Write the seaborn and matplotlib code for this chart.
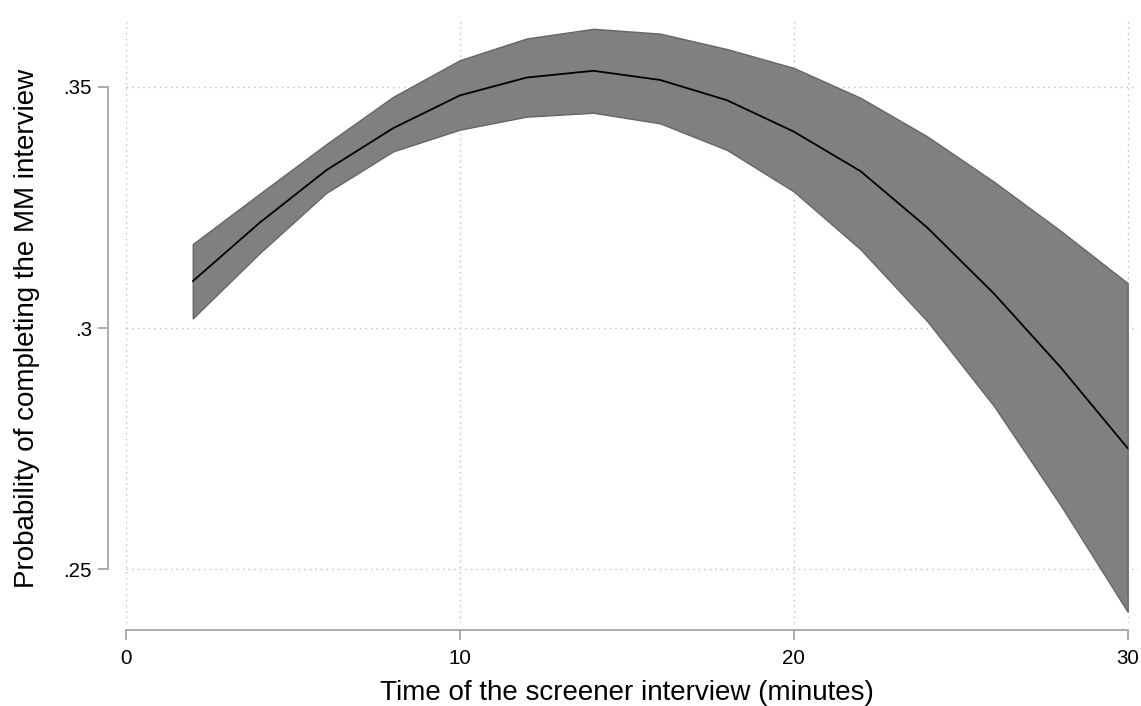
import numpy as np
import pandas as pd
import matplotlib
matplotlib.use("Agg")
import matplotlib.pyplot as plt
import seaborn as sns

# Data
minutes = [2, 4, 6, 8, 10, 12, 14, 16, 18, 20, 22, 24, 26, 28, 30]
prob_mean = [0.3097, 0.3218, 0.3327, 0.3414, 0.3482, 0.3519, 0.3533, 0.3514,
             0.3472, 0.3407, 0.3325, 0.3208, 0.3071, 0.2918, 0.2751]
prob_upper = [0.3174, 0.3278, 0.3381, 0.3479, 0.3555, 0.3600, 0.3620, 0.3610,
              0.3578, 0.3539, 0.3477, 0.3397, 0.3303, 0.3201, 0.3093]
prob_lower = [0.3020, 0.3155, 0.3280, 0.3366, 0.3411, 0.3438, 0.3446, 0.3424,
              0.3369, 0.3283, 0.3163, 0.3014, 0.2838, 0.2632, 0.2412]
x_ticks = [0, 10, 20, 30]
y_ticks = [0.25, 0.30, 0.35]
y_ticklabels = [".25", ".3", ".35"]
x_label = "Time of the screener interview (minutes)"
y_label = "Probability of completing the MM interview"

df = pd.DataFrame({"minutes": minutes, "mean": prob_mean,
                   "upper": prob_upper, "lower": prob_lower})

sns.set_theme(style="white")
plt.rcParams["font.family"] = ["Liberation Sans", "DejaVu Sans"]

W, H = 1141, 706
fig = plt.figure(figsize=(W / 100, H / 100), dpi=100)
ax = fig.add_axes([126 / W, 1 - 623 / H, 1012 / W, 605 / H])

ax.fill_between(df["minutes"], df["lower"], df["upper"],
                facecolor="#808080", edgecolor="#666666", linewidth=1.0,
                joinstyle="round", zorder=2)
sns.lineplot(data=df, x="minutes", y="mean", ax=ax, color="black",
             linewidth=1.3, zorder=3)

ax.set_xlim(0, 30.31)
ax.set_ylim(0.23887, 0.36424)

ax.set_xticks(x_ticks)
ax.set_xticklabels([str(t) for t in x_ticks])
ax.set_yticks(y_ticks)
ax.set_yticklabels(y_ticklabels)

ax.grid(True, linestyle=(0, (1, 3)), color="#bdbdbd", linewidth=1.0, zorder=0)
ax.set_axisbelow(True)

for s in ["top", "right"]:
    ax.spines[s].set_visible(False)
spine_col = "#a6a6a6"
ax.spines["left"].set_position(("outward", 12.96))
ax.spines["bottom"].set_position(("outward", 5.04))
ax.spines["left"].set_bounds(0.25, 0.35)
ax.spines["bottom"].set_bounds(0, 30)
for s in ["left", "bottom"]:
    ax.spines[s].set_color(spine_col)
    ax.spines[s].set_linewidth(1.3)

ax.tick_params(axis="both", which="major", direction="out", length=7.5,
               width=1.3, color=spine_col, labelsize=14.8, labelcolor="black",
               left=True, bottom=True)
ax.tick_params(axis="y", pad=4)
ax.tick_params(axis="x", pad=6)

ax.set_xlabel(x_label, fontsize=20, color="black", va="center")
ax.set_ylabel(y_label, fontsize=20, color="black", va="center", rotation=90)
ax.xaxis.set_label_coords((626.5 - 126) / 1012, (623 - 693) / 605)
ax.yaxis.set_label_coords((27 - 126) / 1012, (623 - 328) / 605)

fig.savefig("out.png", dpi=100)
